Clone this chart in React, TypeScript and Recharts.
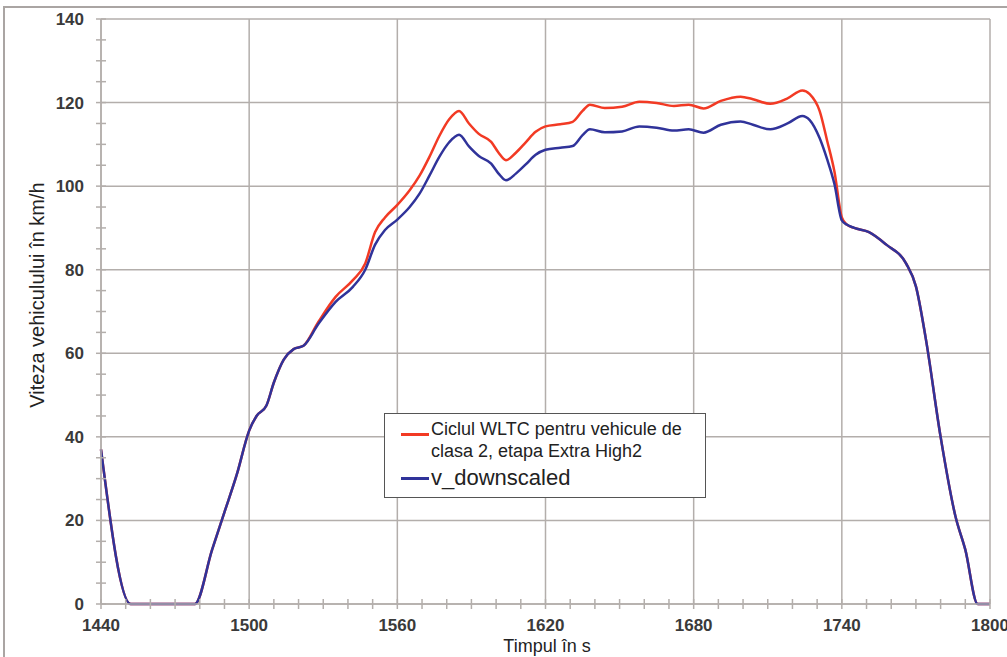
import { LineChart, Line, XAxis, YAxis, CartesianGrid } from "recharts";

// time in s, speeds in km/h
const times = [
  1440, 1452, 1478, 1485, 1490, 1495, 1500, 1503, 1507, 1510, 1514, 1518, 1522, 1528, 1535, 1542, 1547, 1551,
  1555, 1560, 1565, 1569, 1573, 1577, 1581, 1585, 1589, 1593, 1598, 1601, 1604, 1608, 1612, 1616, 1620, 1626,
  1631, 1635, 1638, 1644, 1651, 1658, 1665, 1672, 1678, 1684, 1691, 1699, 1704, 1711, 1718, 1724, 1727, 1731,
  1734, 1737, 1740, 1742, 1745, 1751, 1758, 1766, 1770, 1774, 1780, 1786, 1790, 1795, 1800,
];
const wltcSpeed = [
  37, 0, 0, 13, 22, 31, 41.5, 45, 47.5, 53, 58.5, 61, 61.8, 67.5, 73.5, 77.5, 81.5, 89,
  92.5, 95.5, 99, 102.5, 107, 112, 116, 118, 115, 112.5, 110.6, 108, 106.2, 108, 110.5, 113, 114.3, 114.8,
  115.4, 118, 119.5, 118.7, 119, 120.2, 119.9, 119.2, 119.5, 118.6, 120.4, 121.4, 120.8, 119.7, 121, 122.9, 122, 118,
  111, 103.5, 92.5, 90.8, 90, 89, 86, 81.5, 76, 63.5, 40, 21, 13, 0, 0,
];
const downscaledSpeed = [
  37, 0, 0, 13, 22, 31, 41.5, 45, 47.5, 53, 58.5, 61, 61.8, 67, 72.3, 75.9, 80, 86,
  89.5, 92, 95, 98.2, 102.5, 107, 110.5, 112.3, 109.5, 107.2, 105.4, 103, 101.4, 103, 105.2, 107.5, 108.7, 109.2,
  109.6, 112.2, 113.6, 112.9, 113.1, 114.3, 114, 113.3, 113.6, 112.8, 114.7, 115.5, 114.7, 113.6, 115, 116.8, 115.8, 111.5,
  106.5, 100.5, 91.8, 90.8, 90, 89, 86, 81.5, 76, 63.5, 40, 21, 13, 0, 0,
];

const xMajor = [1440, 1500, 1560, 1620, 1680, 1740, 1800];
const xTicks = [
  1440, 1450, 1460, 1470, 1480, 1490, 1500, 1510, 1520, 1530, 1540, 1550, 1560, 1570, 1580, 1590, 1600, 1610, 1620,
  1630, 1640, 1650, 1660, 1670, 1680, 1690, 1700, 1710, 1720, 1730, 1740, 1750, 1760, 1770, 1780, 1790, 1800,
];
const yMajor = [0, 20, 40, 60, 80, 100, 120, 140];
const yTicks = [0, 5, 10, 15, 20, 25, 30, 35, 40, 45, 50, 55, 60, 65, 70, 75, 80, 85, 90, 95, 100, 105, 110, 115, 120, 125, 130, 135, 140];

const redName1 = "Ciclul WLTC pentru vehicule de";
const redName2 = "clasa 2, etapa Extra High2";
const blueName = "v_downscaled";

const data = times.map((t, i) => ({ t, wltc: wltcSpeed[i], down: downscaledSpeed[i] }));

const FONT = "'Liberation Sans', Arial, sans-serif";
const GRID = "#b3aeab";
const RED = "#f23a24";
const BLUE = "#30339a";

const XTick = (props: any) => {
  const { x, y, payload } = props;
  const major = xMajor.includes(payload.value);
  return (
    <g>
      <line x1={x} x2={x} y1={y - 5} y2={y + 5} stroke={GRID} strokeWidth={1.5} />
      {major && (
        <text x={x} y={y + 27} textAnchor="middle" fontFamily={FONT} fontWeight="bold" fontSize={17} fill="#3a3a3a">
          {payload.value}
        </text>
      )}
    </g>
  );
};

const YTick = (props: any) => {
  const { x, y, payload } = props;
  const major = yMajor.includes(payload.value);
  return (
    <g>
      <line x1={x - 5} x2={x + 5} y1={y} y2={y} stroke={GRID} strokeWidth={1.5} />
      {major && (
        <text x={x - 17} y={y + 6} textAnchor="end" fontFamily={FONT} fontWeight="bold" fontSize={17} fill="#3a3a3a">
          {payload.value}
        </text>
      )}
    </g>
  );
};

const LegendBox = () => (
  <div
    style={{
      position: "absolute",
      left: 384,
      top: 413,
      width: 322,
      height: 85,
      border: "1px solid #555",
      background: "#fff",
      fontFamily: FONT,
      color: "#222",
      boxSizing: "border-box",
    }}
  >
    <div style={{ position: "absolute", left: 16, top: 19, width: 28, height: 3, background: RED }} />
    <div style={{ position: "absolute", left: 46, top: 4, width: 272, fontSize: 18, lineHeight: "22px", whiteSpace: "nowrap" }}>
      {redName1}
      <br />
      {redName2}
    </div>
    <div style={{ position: "absolute", left: 16, top: 63, width: 28, height: 3, background: BLUE }} />
    <div style={{ position: "absolute", left: 46, top: 51, fontSize: 22, lineHeight: "26px" }}>{blueName}</div>
  </div>
);

export default function App() {
  return (
    <div style={{ position: "absolute", left: 0, top: 0, width: 1007, height: 657, overflow: "hidden", background: "#fff" }}>
      <div
        style={{
          position: "absolute",
          left: 3,
          top: 6,
          width: 1030,
          height: 700,
          border: "2px solid #aaa5a3",
        }}
      />
      <div style={{ position: "absolute", left: 0, top: 0 }}>
        <LineChart width={1007} height={657} data={data} margin={{ top: 19, right: 17, bottom: 23, left: 0 }}>
          <CartesianGrid stroke={GRID} strokeWidth={1.5} horizontalValues={yMajor} verticalValues={xMajor} />
          <XAxis
            dataKey="t"
            type="number"
            domain={[1440, 1800]}
            ticks={xTicks}
            interval={0}
            height={30}
            tickSize={0}
            tickMargin={0}
            tickLine={false}
            tick={<XTick />}
            axisLine={{ stroke: GRID, strokeWidth: 1.5 }}
            label={{
              content: () => (
                <text x={547} y={652} textAnchor="middle" fontFamily={FONT} fontSize={18} fill="#222">
                  Timpul în s
                </text>
              ),
            }}
          />
          <YAxis
            type="number"
            domain={[0, 140]}
            ticks={yTicks}
            interval={0}
            width={101}
            tickSize={0}
            tickMargin={0}
            tickLine={false}
            tick={<YTick />}
            axisLine={{ stroke: GRID, strokeWidth: 1.5 }}
            label={{
              content: () => (
                <text
                  x={44}
                  y={295}
                  transform="rotate(-90 44 295)"
                  textAnchor="middle"
                  fontFamily={FONT}
                  fontSize={20}
                  fill="#222"
                >
                  Viteza vehiculului în km/h
                </text>
              ),
            }}
          />
          <Line type="monotone" dataKey="wltc" stroke={RED} strokeWidth={2.5} dot={false} isAnimationActive={false} />
          <Line type="monotone" dataKey="down" stroke={BLUE} strokeWidth={2.5} dot={false} isAnimationActive={false} />
        </LineChart>
      </div>
      <LegendBox />
    </div>
  );
}
